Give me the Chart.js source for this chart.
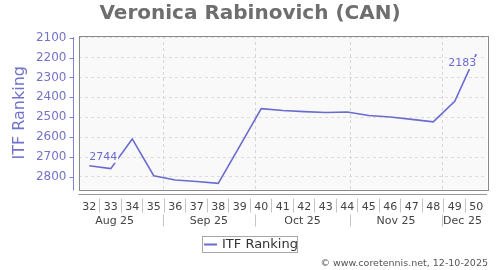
<!DOCTYPE html>
<html>
<head>
<meta charset="utf-8">
<script src="https://cdn.jsdelivr.net/npm/chart.js@4/dist/chart.umd.min.js"></script>
<style>
  html, body { margin: 0; padding: 0; background: #fff; }
  #wrap { width: 500px; height: 270px; }
</style>
</head>
<body>
<div id="wrap"><canvas id="rankChart" width="500" height="270"></canvas></div>
<script>
// Weekly ITF ranking
const weeks = [32, 33, 34, 35, 36, 37, 38, 39, 40, 41, 42, 43, 44, 45, 46, 47, 48, 49, 50];
const ranks = [2744, 2758, 2609, 2794, 2815, 2823, 2832, 2645, 2457, 2466, 2472, 2476, 2474, 2491, 2499, 2511, 2523, 2420, 2183];
const rankTicks = [2100, 2200, 2300, 2400, 2500, 2600, 2700, 2800];
// month starts and label centres, in week units
const monthStarts = [35.42, 39.70, 44.14, 48.40];
const monthNames = ['Aug 25', 'Sep 25', 'Oct 25', 'Nov 25', 'Dec 25'];
const monthMids = [33.18, 37.56, 41.92, 46.27, 49.36];

const purple = '#6b6bcf';
const fmt = v => String(v);

// Plot box, axes, month row, legend and footer
const decor = {
    id: 'decor',
    beforeDraw(chart) {
        const { ctx, chartArea: a, scales: { x } } = chart;
        ctx.save();
        ctx.fillStyle = '#f9f9f9';
        ctx.fillRect(a.left, a.top, a.right - a.left, a.bottom - a.top);
        ctx.strokeStyle = '#d6d6d6';
        ctx.lineWidth = 1;
        ctx.setLineDash([3, 3]);
        monthStarts.forEach(m => {
            const px = Math.round(x.getPixelForValue(m)) + 0.5;
            ctx.beginPath();
            ctx.moveTo(px, a.top);
            ctx.lineTo(px, a.bottom);
            ctx.stroke();
        });
        ctx.restore();
    },
    afterDatasetsDraw(chart) {
        const { ctx, chartArea: a } = chart;
        const pts = chart.getDatasetMeta(0).data;
        ctx.save();
        ctx.font = '11px "DejaVu Sans"';
        ctx.textBaseline = 'middle';
        const labels = [
            { i: 0, dx: 0, dy: -9, align: 'left' },
            { i: pts.length - 1, dx: 0, dy: 9, align: 'right' }
        ];
        labels.forEach(l => {
            const p = pts[l.i];
            const txt = fmt(ranks[l.i]);
            const w = ctx.measureText(txt).width;
            const x0 = l.align === 'left' ? p.x + l.dx : p.x + l.dx - w;
            ctx.fillStyle = '#f9f9f9';
            ctx.fillRect(x0 - 1, p.y + l.dy - 6, w + 2, 12);
            ctx.fillStyle = purple;
            ctx.textAlign = l.align;
            ctx.fillText(txt, p.x + l.dx, p.y + l.dy);
        });

        // plot frame
        ctx.strokeStyle = '#8a8a8a';
        ctx.lineWidth = 1;
        ctx.strokeRect(Math.round(a.left) + 0.5, Math.round(a.top) + 0.5,
            Math.round(a.right - a.left), Math.round(a.bottom - a.top));
        ctx.restore();
    },
    afterDraw(chart) {
        const { ctx, chartArea: a, scales: { x, y } } = chart;
        ctx.save();
        ctx.setLineDash([]);
        ctx.lineWidth = 1;

        // y axis line and ticks
        const yx = Math.round(a.left) - 5.5;
        ctx.strokeStyle = '#8080d4';
        ctx.beginPath();
        ctx.moveTo(yx, a.top + 1);
        ctx.lineTo(yx, a.bottom + 1);
        rankTicks.forEach(t => {
            const py = Math.round(y.getPixelForValue(t)) + 0.5;
            ctx.moveTo(yx - 4, py);
            ctx.lineTo(yx, py);
        });
        ctx.stroke();

        // x axis line
        const ax = Math.round(a.bottom) + 4.5;
        ctx.strokeStyle = '#999';
        ctx.beginPath();
        ctx.moveTo(a.left, ax);
        ctx.lineTo(a.right, ax);
        ctx.stroke();

        // week separators
        ctx.strokeStyle = '#c4c4c4';
        ctx.beginPath();
        for (let i = 0; i < weeks.length - 1; i++) {
            const mid = (weeks[i] + weeks[i + 1]) / 2;
            const px = Math.round(x.getPixelForValue(mid)) - 0.5;
            ctx.moveTo(px, ax + 4);
            ctx.lineTo(px, ax + 18);
        }
        monthStarts.forEach(m => {
            const px = Math.round(x.getPixelForValue(m)) + 0.5;
            ctx.moveTo(px, ax + 20);
            ctx.lineTo(px, ax + 32);
        });
        ctx.stroke();

        // month labels
        ctx.fillStyle = '#444';
        ctx.font = '11px "DejaVu Sans"';
        ctx.textAlign = 'center';
        ctx.textBaseline = 'middle';
        monthNames.forEach((m, i) => {
            ctx.fillText(m, x.getPixelForValue(monthMids[i]), ax + 27);
        });

        // legend
        ctx.strokeStyle = '#a8a8a8';
        ctx.strokeRect(202.5, 236.5, 95, 16);
        ctx.strokeStyle = purple;
        ctx.lineWidth = 2;
        ctx.beginPath();
        ctx.moveTo(204, 244.5);
        ctx.lineTo(217, 244.5);
        ctx.stroke();
        ctx.fillStyle = '#333';
        ctx.font = '13px "DejaVu Sans"';
        ctx.textAlign = 'left';
        ctx.fillText(chart.data.datasets[0].label, 222, 245);

        // footer
        ctx.fillStyle = '#555';
        ctx.font = '9.5px "DejaVu Sans"';
        ctx.textAlign = 'right';
        ctx.fillText('\u00a9 www.coretennis.net, 12-10-2025', 488, 264);
        ctx.restore();
    }
};

new Chart(document.getElementById('rankChart'), {
    type: 'line',
    data: {
        labels: weeks,
        datasets: [{
            label: 'ITF Ranking',
            data: weeks.map((w, i) => ({ x: w, y: ranks[i] })),
            borderColor: purple,
            borderWidth: 1.6,
            pointRadius: 0,
            tension: 0,
            fill: false
        }]
    },
    options: {
        responsive: false,
        animation: false,
        layout: { padding: { left: 13, right: 13, top: 0, bottom: 0 } },
        plugins: {
            legend: { display: false },
            tooltip: { enabled: false },
            title: {
                display: true,
                text: 'Veronica Rabinovich (CAN)',
                color: '#6e6e6e',
                font: { family: 'DejaVu Sans', size: 20, weight: 'bold' },
                padding: { top: 2, bottom: 10 }
            }
        },
        scales: {
            x: {
                type: 'linear',
                min: 31.5,
                max: 50.5,
                afterBuildTicks: scale => { scale.ticks = weeks.map(w => ({ value: w })); },
                afterFit: scale => { scale.height = 80.5; },
                grid: { display: false, drawTicks: false },
                border: { display: false },
                ticks: {
                    padding: 11,
                    maxRotation: 0,
                    autoSkip: false,
                    color: '#444',
                    font: { family: 'DejaVu Sans', size: 11 },
                    callback: v => String(v)
                }
            },
            y: {
                reverse: true,
                min: 2092,
                max: 2863,
                afterBuildTicks: scale => { scale.ticks = rankTicks.map(t => ({ value: t })); },
                afterFit: scale => { scale.width = 65.5; },
                grid: { color: '#dcdcdc', drawTicks: false },
                border: { display: false, dash: [3, 3] },
                ticks: {
                    padding: 12,
                    color: '#7373cc',
                    font: { family: 'DejaVu Sans', size: 12 },
                    callback: v => fmt(v)
                },
                title: {
                    display: true,
                    text: 'ITF Ranking',
                    color: '#7373cc',
                    font: { family: 'DejaVu Sans', size: 16 },
                    padding: { top: -3, bottom: 0 }
                }
            }
        }
    },
    plugins: [decor]
});
</script>
</body>
</html>
